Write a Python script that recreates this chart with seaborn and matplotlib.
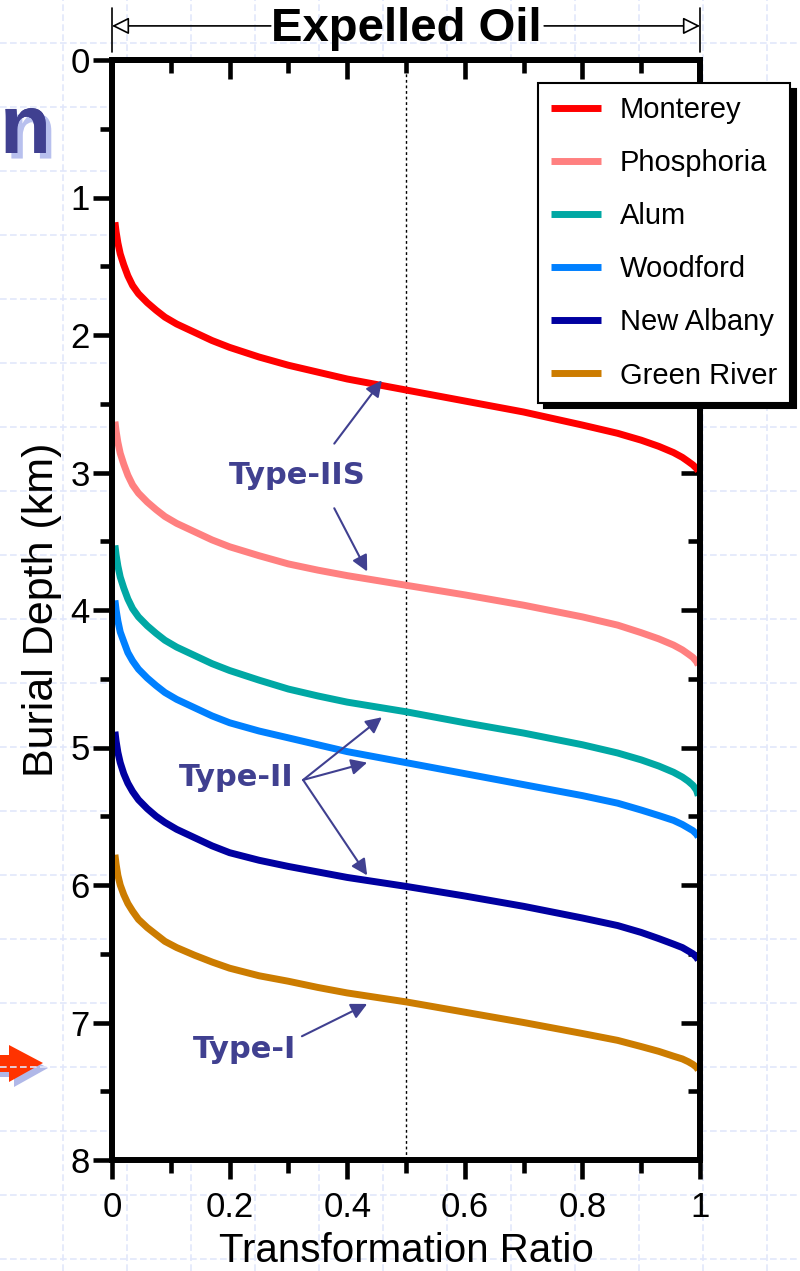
import numpy as np
import pandas as pd
import matplotlib
matplotlib.use("Agg")
import matplotlib.pyplot as plt
import matplotlib.patheffects as pe
import seaborn as sns
from matplotlib.patches import Polygon

# ==========================================
# Data
# ==========================================
ratio = [0.005, 0.007, 0.01, 0.014, 0.02, 0.027, 0.035, 0.045, 0.06, 0.075,
         0.09, 0.11, 0.14, 0.17, 0.2, 0.25, 0.3, 0.35, 0.4, 0.5, 0.6, 0.7,
         0.8, 0.86, 0.9, 0.93, 0.955, 0.97, 0.98, 0.988, 0.994, 0.997]

monterey = [1.18, 1.25, 1.33, 1.41, 1.49, 1.57, 1.64, 1.70, 1.765, 1.82,
            1.87, 1.92, 1.98, 2.04, 2.09, 2.16, 2.22, 2.27, 2.32, 2.40, 2.48, 2.56,
            2.655, 2.715, 2.765, 2.81, 2.855, 2.89, 2.92, 2.945, 2.97, 2.99]
phosphoria = [2.63, 2.70, 2.78, 2.86, 2.94, 3.02, 3.09, 3.15, 3.215, 3.27,
              3.32, 3.37, 3.43, 3.49, 3.54, 3.605, 3.665, 3.71, 3.75, 3.82, 3.89, 3.965,
              4.05, 4.11, 4.165, 4.21, 4.255, 4.29, 4.32, 4.345, 4.375, 4.40]
alum = [3.53, 3.60, 3.68, 3.76, 3.84, 3.92, 3.99, 4.05, 4.115, 4.17,
        4.22, 4.27, 4.33, 4.39, 4.44, 4.51, 4.575, 4.625, 4.67, 4.74, 4.82, 4.895,
        4.98, 5.04, 5.09, 5.135, 5.18, 5.215, 5.245, 5.275, 5.31, 5.35]
woodford = [3.93, 4.00, 4.08, 4.16, 4.23, 4.31, 4.37, 4.43, 4.495, 4.55,
            4.60, 4.65, 4.71, 4.77, 4.82, 4.88, 4.93, 4.98, 5.03, 5.11, 5.19, 5.27,
            5.35, 5.405, 5.455, 5.495, 5.53, 5.56, 5.585, 5.605, 5.63, 5.65]
new_albany = [4.885, 4.955, 5.035, 5.11, 5.19, 5.26, 5.32, 5.38, 5.445, 5.50,
              5.545, 5.595, 5.655, 5.715, 5.765, 5.82, 5.865, 5.905, 5.945, 6.01, 6.08, 6.155,
              6.24, 6.295, 6.345, 6.39, 6.43, 6.455, 6.48, 6.50, 6.525, 6.545]
green_river = [5.78, 5.85, 5.93, 6.00, 6.07, 6.135, 6.19, 6.25, 6.31, 6.36,
               6.41, 6.455, 6.51, 6.56, 6.605, 6.66, 6.70, 6.745, 6.785, 6.85, 6.925, 7.00,
               7.08, 7.13, 7.175, 7.21, 7.245, 7.265, 7.285, 7.305, 7.325, 7.345]

names = ["Monterey", "Phosphoria", "Alum", "Woodford", "New Albany", "Green River"]
colors = ["#ff0000", "#ff8080", "#00a8a4", "#0080ff", "#0000a0", "#cc7c00"]
series = [monterey, phosphoria, alum, woodford, new_albany, green_river]

x_ticks = [0, 0.2, 0.4, 0.6, 0.8, 1]
x_tick_labels = ["0", "0.2", "0.4", "0.6", "0.8", "1"]
y_ticks = [0, 1, 2, 3, 4, 5, 6, 7, 8]

df = pd.concat([pd.DataFrame({"ratio": ratio, "depth": d, "source": n})
                for n, d in zip(names, series)], ignore_index=True)

# ==========================================
# Style
# ==========================================
sns.set_style("white")
plt.rcParams["font.family"] = ["Liberation Sans", "DejaVu Sans"]
plt.rcParams["text.color"] = "black"
plt.rcParams["axes.labelcolor"] = "black"
plt.rcParams["xtick.color"] = "black"
plt.rcParams["ytick.color"] = "black"

ann_color = "#404090"
W, H = 800, 1271
fig = plt.figure(figsize=(W / 100, H / 100), dpi=100)

# slide background grid
bg = fig.add_axes([0, 0, 1, 1], zorder=-10)
bg.set_xlim(0, W)
bg.set_ylim(H, 0)
bg.axis("off")
for gx in range(63, W, 64):
    bg.axvline(gx, color="#e2e7fb", lw=1.2, ls=(0, (4, 2)))
for gy in range(43, H, 64):
    bg.axhline(gy, color="#e2e7fb", lw=1.2, ls=(0, (4, 2)))

# left-edge slide leftovers
bg.text(0, 153, "n", color="#404090", fontsize=60, fontweight="bold",
        ha="left", va="baseline", family="Liberation Sans",
        path_effects=[pe.withSimplePatchShadow(offset=(4, -4),
                                               shadow_rgbFace="#b8c0ee", alpha=1),
                      pe.Normal()])
bg.add_patch(Polygon([(-5, 1060), (14, 1060), (14, 1050), (48, 1068),
                      (14, 1087), (14, 1077), (-5, 1077)],
                     closed=True, color="#b0b8e8", lw=0))
bg.add_patch(Polygon([(-5, 1055), (9, 1055), (9, 1045), (43, 1063),
                      (9, 1082), (9, 1072), (-5, 1072)],
                     closed=True, color="#ff3300", lw=0))

ax = fig.add_axes([112 / W, 1 - 1160 / H, 588 / W, 1100 / H])
ax.set_facecolor("white")

sns.lineplot(data=df, x="ratio", y="depth", hue="source", hue_order=names,
             palette=dict(zip(names, colors)), estimator=None, sort=False,
             lw=5, solid_capstyle="butt", legend=False, ax=ax)
handles = list(ax.get_lines())

ax.axvline(0.5, color="black", lw=1, ls=(0, (2, 2)), zorder=1)

ax.set_xlim(0, 1)
ax.set_ylim(8, 0)
ax.set_xticks(x_ticks)
ax.set_xticklabels(x_tick_labels)
ax.set_yticks(y_ticks)
ax.set_xticks(np.arange(0.1, 1.0, 0.2), minor=True)
ax.set_yticks(np.arange(0.5, 8.0, 1.0), minor=True)

for s in ax.spines.values():
    s.set_visible(True)
    s.set_linewidth(4.3)
    s.set_color("black")

ax.tick_params(axis="both", which="both", bottom=True, left=True,
               top=False, right=False)
ax.tick_params(axis="both", which="major", direction="out", length=14,
               width=3.3, labelsize=25, color="black", labelcolor="black")
ax.tick_params(axis="both", which="minor", direction="out", length=9,
               width=3.3, color="black")
ax.tick_params(axis="x", which="major", pad=8)
ax.tick_params(axis="y", which="major", pad=2)

# inward ticks on the top and right sides
top = ax.secondary_xaxis("top")
top.set_xticks(x_ticks)
top.set_xticks(np.arange(0.1, 1.0, 0.2), minor=True)
top.tick_params(which="both", top=True, labeltop=False, color="black")
top.tick_params(which="major", direction="in", length=14, width=3.3)
top.tick_params(which="minor", direction="in", length=9, width=3.3)
top.spines["top"].set_linewidth(4.3)
right = ax.secondary_yaxis("right")
right.set_yticks(y_ticks)
right.set_yticks(np.arange(0.5, 8.0, 1.0), minor=True)
right.tick_params(which="both", right=True, labelright=False, color="black")
right.tick_params(which="major", direction="in", length=14, width=3.3)
right.tick_params(which="minor", direction="in", length=9, width=3.3)
right.spines["right"].set_linewidth(4.3)

ax.set_xlabel("Transformation Ratio", fontsize=29, labelpad=6, color="black")
ax.set_ylabel("Burial Depth (km)", fontsize=31, labelpad=6, color="black")

# "Expelled Oil" header with arrows
ax.text(0.5, 1.028, "Expelled Oil", transform=ax.transAxes, ha="center",
        va="center", fontsize=34, fontweight="bold", color="black")
for x0, x1 in [(0.27, 0.0), (0.735, 1.0)]:
    ax.annotate("", xy=(x1, 1.031), xytext=(x0, 1.031), xycoords="axes fraction",
                arrowprops=dict(arrowstyle="-|>", fc="white", ec="black", lw=1.2,
                                mutation_scale=26, shrinkA=0, shrinkB=0))
for xb in [0.0, 1.0]:
    ax.plot([xb, xb], [1.007, 1.047], transform=ax.transAxes, color="black",
            lw=1.2, clip_on=False)

# type annotations
akw = dict(arrowstyle="-|>", color=ann_color, lw=1.5, mutation_scale=24,
           shrinkA=0, shrinkB=0)
tkw = dict(color=ann_color, fontsize=22, fontweight="bold", ha="center",
           va="center", family="DejaVu Sans")
ax.text(0.315, 3.02, "Type-IIS", **tkw)
ax.annotate("", xy=(0.459, 2.33), xytext=(0.378, 2.79), arrowprops=akw)
ax.annotate("", xy=(0.434, 3.72), xytext=(0.378, 3.26), arrowprops=akw)
ax.text(0.211, 5.22, "Type-II", **tkw)
for tip in [(0.459, 4.78), (0.434, 5.11), (0.434, 5.93)]:
    ax.annotate("", xy=tip, xytext=(0.325, 5.236), arrowprops=akw)
ax.text(0.226, 7.2, "Type-I", **tkw)
ax.annotate("", xy=(0.434, 6.865), xytext=(0.323, 7.10), arrowprops=akw)

leg = fig.legend(handles, names, loc="upper left",
                 bbox_to_anchor=(538 / W, 1 - 83 / H), borderaxespad=0,
                 fontsize=21, frameon=True, fancybox=False,
                 shadow={"color": "black", "alpha": 1, "ox": 4, "oy": -4},
                 handlelength=1.7, handletextpad=0.65, labelspacing=0.86,
                 borderpad=0.45, labelcolor="black")
leg.get_frame().set_edgecolor("black")
leg.get_frame().set_linewidth(1.5)
for lh in leg.get_lines():
    lh.set_linewidth(5)

fig.savefig("out.png", dpi=100)
